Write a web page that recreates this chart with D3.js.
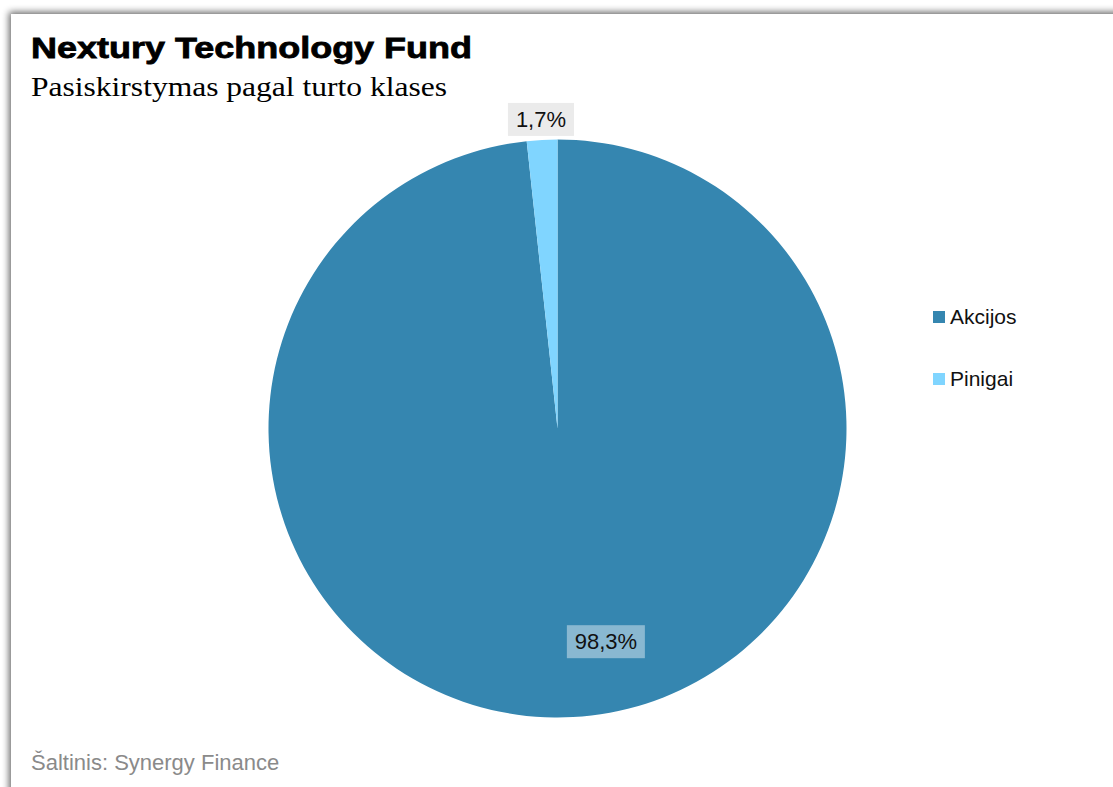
<!DOCTYPE html>
<html>
<head>
<meta charset="utf-8">
<script src="https://cdn.jsdelivr.net/npm/d3@7"></script>
<style>
  body { margin: 0; background: #fff; }
  svg { display: block; }
</style>
</head>
<body>
<svg id="chart"></svg>
<script>
const categories = ['Akcijos', 'Pinigai'];
const values = [98.3, 1.7];
const labels = ['98,3%', '1,7%'];
const colors = ['#3586b0', '#80d5ff'];

const w = 1113;
const h = 787;
const cx = 557.5, cy = 428.5, R = 289;

const svg = d3.select('#chart').attr('width', w).attr('height', h);

// frame shadow
const defs = svg.append('defs');
const f = defs.append('filter').attr('id', 'sh').attr('x', '-5%').attr('y', '-5%').attr('width', '110%').attr('height', '110%');
f.append('feGaussianBlur').attr('in', 'SourceAlpha').attr('stdDeviation', 3.5);
f.append('feOffset').attr('dx', -2).attr('dy', -2).attr('result', 'b');
f.append('feComponentTransfer').append('feFuncA').attr('type', 'linear').attr('slope', 0.6);
const m = f.append('feMerge');
m.append('feMergeNode');
m.append('feMergeNode').attr('in', 'SourceGraphic');

svg.append('rect')
  .attr('x', 11).attr('y', 14).attr('width', w + 20).attr('height', h + 20)
  .attr('fill', '#fff').attr('filter', 'url(#sh)');

svg.append('text')
  .attr('x', 31).attr('y', 58)
  .attr('font-family', 'Liberation Sans, Arial, sans-serif')
  .attr('font-weight', 900).attr('font-size', 30)
  .attr('textLength', 441).attr('lengthAdjust', 'spacingAndGlyphs')
  .attr('stroke', '#000').attr('stroke-width', 0.8)
  .text('Nextury Technology Fund');

svg.append('text')
  .attr('x', 31).attr('y', 96)
  .attr('font-family', 'Liberation Serif, Times New Roman, serif')
  .attr('font-size', 28)
  .attr('textLength', 416).attr('lengthAdjust', 'spacingAndGlyphs')
  .text('Pasiskirstymas pagal turto klases');

const pie = d3.pie().sort(null).value(d => d);
const arcs = pie(values);
const arc = d3.arc().innerRadius(0).outerRadius(R);

const g = svg.append('g').attr('transform', `translate(${cx},${cy})`);
g.selectAll('path.slice')
  .data(arcs)
  .enter()
  .append('path')
  .attr('class', 'slice')
  .attr('d', arc)
  .attr('fill', (d, i) => colors[i]);

// label positions
const inArc = d3.arc().innerRadius(213).outerRadius(213);
const outArc = d3.arc().innerRadius(310).outerRadius(310);
const lblPos = [
  p => { const c = inArc.centroid(p); return [c[0] + 37, c[1]]; },
  p => outArc.centroid(p)
];
const boxFill = ['rgba(255,255,255,0.42)', '#ebebeb'];
const boxW = [78, 66];

arcs.forEach((p, i) => {
  const [x, y] = lblPos[i](p);
  g.append('rect')
    .attr('x', x - boxW[i] / 2).attr('y', y - 16)
    .attr('width', boxW[i]).attr('height', 33)
    .attr('fill', boxFill[i]);
  g.append('text')
    .attr('x', x).attr('y', y + 8)
    .attr('text-anchor', 'middle')
    .attr('font-family', 'Liberation Sans, Arial, sans-serif')
    .attr('font-size', 22)
    .attr('fill', '#111')
    .text(labels[i]);
});

// legend
const lg = svg.append('g').attr('transform', 'translate(933,311)');
const items = lg.selectAll('g')
  .data(categories)
  .enter()
  .append('g')
  .attr('transform', (d, i) => `translate(0,${i * 62})`);
items.append('rect')
  .attr('width', 12).attr('height', 12)
  .attr('fill', (d, i) => colors[i]);
items.append('text')
  .attr('x', 17).attr('y', 13)
  .attr('font-family', 'Liberation Sans, Arial, sans-serif')
  .attr('font-size', 21)
  .attr('fill', '#111')
  .text(d => d);

svg.append('text')
  .attr('x', 31).attr('y', 770)
  .attr('font-family', 'Liberation Sans, Arial, sans-serif')
  .attr('font-size', 22)
  .attr('fill', '#8a8a8a')
  .text('Šaltinis: Synergy Finance');
</script>
</body>
</html>
